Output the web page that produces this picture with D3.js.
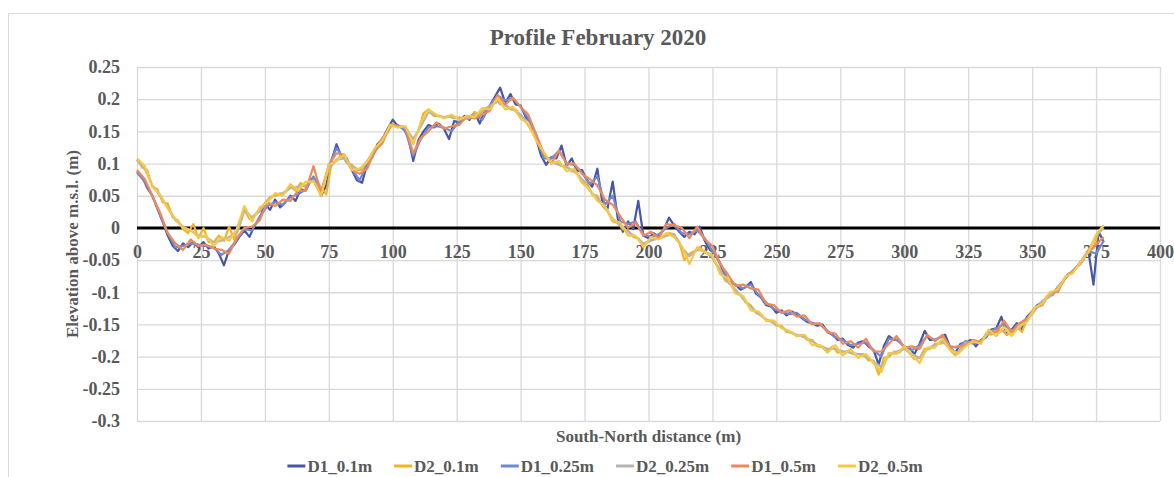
<!DOCTYPE html>
<html>
<head>
<meta charset="utf-8">
<script src="https://cdn.jsdelivr.net/npm/d3@7"></script>
<style>
  body { margin: 0; background: #fff; }
  svg { display: block; font-family: "Liberation Serif", "Times New Roman", serif; font-weight: bold; }
</style>
</head>
<body>
<svg id="chart" width="1174" height="477"></svg>
<script>
(function(){

    // elevations in mm, sampled every `step` metres from 0
    var D1_01 = [88,80,62,50,30,10,-12,-28,-36,-24,
        -30,-22,-30,-22,-32,-28,-40,-58,-34,-26,
        -14,-4,-14,4,14,38,28,44,32,40,
        50,42,60,58,76,70,50,66,104,130,
        110,108,90,74,70,100,110,130,138,154,
        168,158,156,142,104,136,150,160,156,162,
        154,138,166,164,174,168,180,162,182,190,
        204,218,194,208,192,190,172,164,140,112,
        98,110,108,128,96,108,88,90,74,64,
        92,38,30,72,14,-6,10,-2,42,-12,
        -16,-8,-14,-2,16,4,-6,-14,-6,-10,
        2,-20,-34,-40,-56,-76,-86,-88,-96,-92,
        -84,-102,-108,-120,-122,-132,-128,-136,-130,-134,
        -140,-146,-148,-152,-150,-162,-166,-174,-172,-182,
        -186,-178,-176,-184,-190,-212,-184,-168,-174,-174,
        -186,-186,-196,-180,-160,-174,-174,-170,-166,-186,
        -194,-180,-178,-174,-184,-174,-170,-158,-156,-138,
        -166,-158,-148,-158,-138,-130,-120,-116,-106,-104,
        -92,-84,-72,-68,-58,-48,-36,-88,-6,-22];

    var D2_01 = [106,94,90,64,60,40,38,16,12,-2,
        -8,6,-16,0,-22,-22,-12,-20,2,-18,
        2,28,14,20,28,38,48,50,52,56,
        64,58,70,62,74,76,62,52,100,104,
        114,102,98,90,90,102,116,126,140,148,
        162,156,158,146,138,150,178,184,174,174,
        172,174,170,172,170,170,180,174,186,188,
        200,192,192,184,184,174,166,152,142,120,
        110,100,102,96,96,88,86,74,70,52,
        50,34,26,10,8,-2,-4,-14,-16,-28,
        -20,-18,-16,-14,-8,-10,-22,-50,-40,-36,
        -30,-38,-40,-54,-64,-82,-86,-98,-104,-116,
        -120,-132,-134,-144,-144,-152,-152,-162,-162,-168,
        -166,-174,-174,-184,-184,-192,-184,-194,-192,-192,
        -196,-196,-196,-206,-206,-228,-202,-200,-192,-194,
        -186,-194,-204,-202,-188,-188,-180,-180,-178,-190,
        -198,-188,-176,-178,-178,-178,-164,-166,-160,-158,
        -166,-162,-152,-162,-142,-134,-122,-116,-106,-104,
        -92,-84,-72,-68,-58,-50,-34,-32,-6,4];

    var D1_025 = [86,72,50,20,-8,-30,-28,-24,-26,-28,
        -30,-42,-34,-18,-2,-4,18,34,40,36,
        48,52,60,80,56,96,124,108,92,74,
        98,118,138,158,160,150,112,138,156,158,
        156,150,166,172,176,168,190,206,198,202,
        188,170,146,108,108,120,100,98,86,68,
        80,36,50,10,6,10,-10,-14,-10,0,
        6,-8,-10,-4,-16,-36,-54,-80,-88,-94,
        -88,-104,-116,-126,-130,-134,-132,-142,-148,-150,
        -160,-170,-174,-182,-180,-178,-190,-200,-172,-174,
        -184,-190,-182,-168,-174,-168,-184,-186,-176,-180,
        -176,-162,-156,-150,-160,-150,-140,-126,-114,-106,
        -94,-78,-66,-54,-36,-40,-20];

    var D2_025 = [106,92,66,50,32,12,2,-4,-12,-14,
        -22,-20,-14,-8,28,16,26,42,52,54,
        62,64,66,74,56,92,106,108,96,90,
        104,122,136,158,158,156,138,158,180,174,
        172,172,170,170,176,180,190,196,190,184,
        176,160,142,116,102,98,94,88,76,58,
        46,32,14,4,-6,-14,-24,-20,-16,-12,
        -10,-30,-44,-34,-36,-46,-66,-84,-96,-110,
        -122,-134,-142,-148,-154,-162,-166,-170,-176,-184,
        -188,-188,-192,-194,-196,-200,-208,-216,-198,-192,
        -188,-196,-202,-188,-182,-176,-188,-194,-178,-178,
        -176,-164,-162,-160,-160,-156,-142,-128,-114,-106,
        -92,-78,-66,-56,-36,-12,0];

    var D1_05 = [90,76,50,24,-8,-24,-34,-18,-28,-26,
        -32,-34,-40,-16,0,2,12,40,34,44,
        42,58,58,96,54,98,116,114,90,84,
        92,120,132,160,158,156,116,140,150,164,
        154,158,160,174,170,176,182,206,192,202,
        188,176,146,116,100,120,100,100,84,76,
        66,44,36,18,0,8,-12,-6,-16,6,
        4,0,-16,2,-18,-28,-56,-72,-90,-88,
        -94,-96,-118,-120,-132,-128,-138,-136,-150,-148,
        -162,-164,-180,-176,-186,-172,-192,-192,-180,-168,
        -186,-184,-188,-166,-176,-166,-186,-184,-182,-174,
        -178,-160,-162,-144,-162,-148,-142,-124,-120,-100,
        -100,-76,-68,-52,-38,-26,-14];

    var D2_05 = [108,96,64,52,30,14,0,-4,-14,-12,
        -28,-14,-20,-2,34,10,32,40,54,50,
        68,58,72,72,50,98,104,114,90,92,
        102,124,136,160,156,158,130,164,184,176,
        170,176,168,174,172,186,184,202,184,188,
        170,162,136,118,100,104,88,92,70,60,
        42,34,12,8,-12,-12,-30,-14,-18,-8,
        -14,-28,-56,-30,-38,-42,-72,-78,-102,-106,
        -128,-130,-144,-144,-156,-160,-168,-166,-182,-182,
        -194,-182,-198,-188,-202,-196,-210,-224,-194,-196,
        -184,-198,-210,-186,-186,-172,-190,-196,-184,-176,
        -180,-158,-168,-154,-168,-152,-146,-124,-118,-100,
        -96,-76,-70,-52,-38,-10,4];

    var seriesNames = ["D1_0.1m", "D2_0.1m", "D1_0.25m", "D2_0.25m", "D1_0.5m", "D2_0.5m"];
    var seriesValues = [D1_01, D2_01, D1_025, D2_025, D1_05, D2_05];
    var seriesSteps = [2, 2, 3, 3, 3, 3];
    var seriesColors = ["#4657a8", "#f3b526", "#7088d8", "#b4b4b4", "#ee8a5a", "#f6c945"];

    var xTicks = [0,25,50,75,100,125,150,175,200,225,250,275,300,325,350,375,400];
    var yTicks = [0.25,0.2,0.15,0.1,0.05,0,-0.05,-0.1,-0.15,-0.2,-0.25,-0.3];

    var margin = {top: 67, right: 14, bottom: 56, left: 137},
        width = 1174 - margin.left - margin.right,
        height = 477 - margin.top - margin.bottom;

    var font = '"Liberation Serif", "Times New Roman", serif';
    var textColor = "#595959";

    var svgRoot = d3.select("#chart");

    // chart frame
    svgRoot.append("rect")
        .attr("x", 8.5).attr("y", 13.5)
        .attr("width", 1400).attr("height", 600)
        .attr("fill", "none").attr("stroke", "#d9d9d9");

    var svg = svgRoot.append("g")
        .attr("transform", "translate(" + margin.left + "," + margin.top + ")");

    var x = d3.scaleLinear().domain([0, 400]).range([0, width]);
    var y = d3.scaleLinear().domain([-0.3, 0.25]).range([height, 0]);

    // gridlines
    var gx = svg.append("g")
        .attr("transform", "translate(0," + height + ")")
        .call(d3.axisBottom(x).tickValues(xTicks).tickSize(-height).tickFormat(""));
    var gy = svg.append("g")
        .call(d3.axisLeft(y).tickValues(yTicks).tickSize(-width).tickFormat(""));
    [gx, gy].forEach(function(g) {
        g.select(".domain").remove();
        g.selectAll("line").attr("stroke", "#d9d9d9").attr("stroke-width", 1.3);
    });

    // x tick labels sit on the zero line
    var xLab = svg.append("g")
        .attr("transform", "translate(0," + y(0) + ")")
        .call(d3.axisBottom(x).tickValues(xTicks).tickSize(0).tickPadding(17));
    var yLab = svg.append("g")
        .call(d3.axisLeft(y).tickValues(yTicks).tickSize(0).tickPadding(17)
            .tickFormat(function(d) { return String(+d.toFixed(2)); }));
    [xLab, yLab].forEach(function(g) {
        g.select(".domain").remove();
        g.attr("font-family", font).attr("font-size", 18).attr("font-weight", "bold");
        g.selectAll("text").attr("fill", textColor);
    });

    // zero line
    svg.append("line")
        .attr("x1", 0).attr("x2", width)
        .attr("y1", y(0)).attr("y2", y(0))
        .attr("stroke", "#000").attr("stroke-width", 3);

    // profile lines
    seriesValues.forEach(function(vals, k) {
        var step = seriesSteps[k];
        var line = d3.line()
            .x(function(v, i) { return x(i * step); })
            .y(function(v) { return y(v / 1000); });
        svg.append("path")
            .datum(vals)
            .attr("fill", "none")
            .attr("stroke", seriesColors[k])
            .attr("stroke-width", 2.2)
            .attr("stroke-linejoin", "round")
            .attr("d", line);
    });

    // titles
    svgRoot.append("text")
        .attr("x", 598).attr("y", 45)
        .attr("text-anchor", "middle")
        .attr("font-size", 23).attr("fill", textColor)
        .text("Profile February 2020");

    svg.append("text")
        .attr("transform", "rotate(-90)")
        .attr("x", -height / 2).attr("y", 72 - margin.left)
        .attr("dy", "0.35em")
        .attr("text-anchor", "middle")
        .attr("font-size", 17).attr("fill", textColor)
        .text("Elevation above m.s.l. (m)");

    svg.append("text")
        .attr("x", width / 2).attr("y", 442 - margin.top)
        .attr("text-anchor", "middle")
        .attr("font-size", 17).attr("fill", textColor)
        .text("South-North distance (m)");

    // legend
    var legend = svgRoot.append("g");
    var pos = 0;
    seriesNames.forEach(function(name, k) {
        var item = legend.append("g").attr("transform", "translate(" + pos + ",0)");
        item.append("line")
            .attr("x1", 0).attr("x2", 18)
            .attr("stroke", seriesColors[k]).attr("stroke-width", 3);
        var t = item.append("text")
            .attr("x", 20).attr("dy", "0.35em")
            .attr("font-size", 17).attr("fill", textColor)
            .text(name);
        pos += 20 + t.node().getComputedTextLength() + 22;
    });
    pos -= 22;
    legend.attr("transform", "translate(" + (605 - pos / 2) + ",466)");

})();
</script>
</body>
</html>
